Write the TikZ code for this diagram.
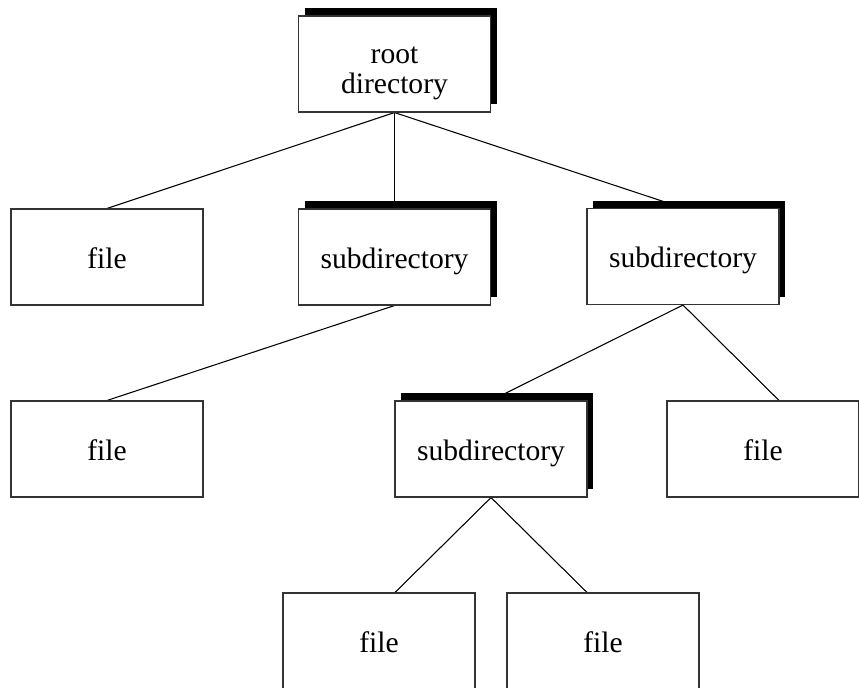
\documentclass[tikz,border=0pt]{standalone}
\usepackage{fontspec}
\setmainfont{Liberation Serif}
\usetikzlibrary{shadows,backgrounds}
\begin{document}
\begin{tikzpicture}[x=0.75pt,y=-0.75pt,
  box/.style={draw=black!80,line width=0.8pt,fill=white,minimum width=144pt,minimum height=72pt,inner sep=0pt,
    font=\fontsize{22.2}{22.5}\selectfont,align=center,text height=16.5pt,text depth=0pt},
  dirbox/.style={box,copy shadow={shadow xshift=4.5pt,shadow yshift=6pt,fill=black,draw=none}},
  link/.style={draw=black,line width=0.8pt}]
\useasboundingbox (0,0) rectangle (859,687);
\node[dirbox,text height=43.5pt] (root) at (394.5,64) {root\\directory};
\node[box] (f1) at (107,257) {file};
\node[dirbox] (s1) at (394.5,257) {subdirectory};
\node[dirbox] (s2) at (683,256.5) {subdirectory};
\node[box] (f2) at (107,449) {file};
\node[dirbox] (s3) at (491,449) {subdirectory};
\node[box] (f3) at (763,449) {file};
\node[box] (f4) at (379,641) {file};
\node[box] (f5) at (603,641) {file};
\begin{scope}[on background layer]
\draw[link] (root.south) -- (f1.north);
\draw[link] (root.south) -- (s1.north);
\draw[link] (root.south) -- (s2.north);
\draw[link] (s1.south) -- (f2.north);
\draw[link] (s2.south) -- (s3.north);
\draw[link] (s2.south) -- ([xshift=12pt]f3.north);
\draw[link] (s3.south) -- ([xshift=12pt]f4.north);
\draw[link] (s3.south) -- ([xshift=-12pt]f5.north);
\end{scope}
\end{tikzpicture}
\end{document}
